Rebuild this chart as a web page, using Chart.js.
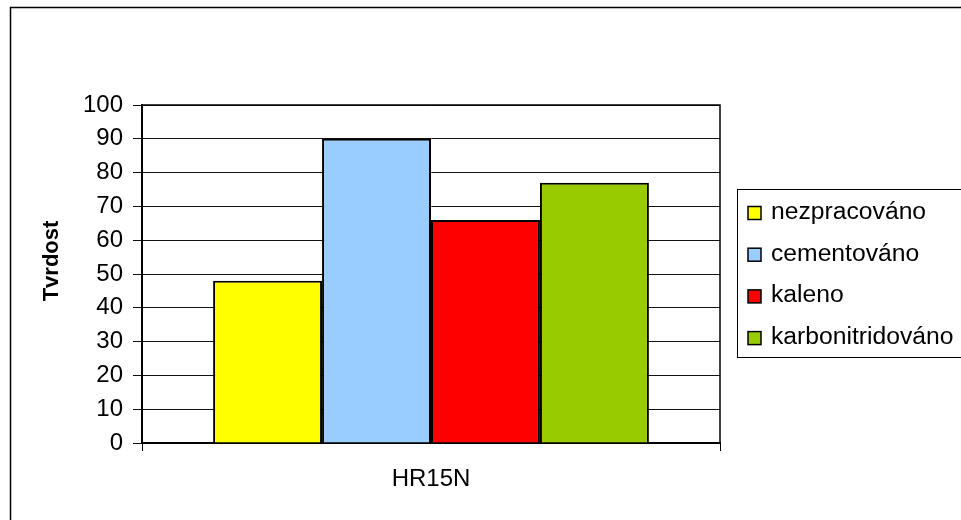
<!DOCTYPE html>
<html>
<head>
<meta charset="utf-8">
<title>Tvrdost HR15N</title>
<script src="https://cdn.jsdelivr.net/npm/chart.js@4/dist/chart.umd.min.js"></script>
<style>
  html, body { margin: 0; padding: 0; background: #fff; }
  #wrap { width: 961px; height: 520px; position: relative; }
</style>
</head>
<body>
<div id="wrap"><canvas id="c" width="961" height="520"></canvas></div>
<script>
// Hardness measured on the HR15N scale for each surface treatment
const categories = ['HR15N'];
const seriesNames = ['nezpracováno', 'cementováno', 'kaleno', 'karbonitridováno'];
const seriesValues = [[48], [90], [66], [77]];
const seriesColors = ['#FFFF00', '#99CCFF', '#FF0000', '#99CC00'];
const yTicks = [0, 10, 20, 30, 40, 50, 60, 70, 80, 90, 100];
const yTitle = 'Tvrdost';

const FONT = '"Liberation Sans", Arial, sans-serif';

// Frame around the whole chart (left and top edges visible)
const frame = {
  id: 'frame',
  beforeDraw(chart) {
    const ctx = chart.ctx;
    ctx.save();
    ctx.fillStyle = '#fff';
    ctx.fillRect(0, 0, chart.width, chart.height);
    ctx.strokeStyle = '#000';
    ctx.lineWidth = 1.5;
    ctx.strokeRect(10.5, 7.5, chart.width + 20, chart.height + 20);
    ctx.restore();
  }
};

// Plot-area border and rotated value-axis title
const plotBox = {
  id: 'plotBox',
  beforeDatasetsDraw(chart) {
    const a = chart.chartArea, ctx = chart.ctx;
    ctx.save();
    ctx.strokeStyle = '#000';
    ctx.lineWidth = 1.5;
    ctx.strokeRect(a.left, a.top, a.right - a.left, a.bottom - a.top);
    ctx.restore();
  },
  afterDraw(chart) {
    const a = chart.chartArea, ctx = chart.ctx;
    ctx.save();
    ctx.translate(52, (a.top + a.bottom) / 2 - 13);
    ctx.rotate(-Math.PI / 2);
    ctx.font = 'bold 22px ' + FONT;
    ctx.fillStyle = '#000';
    ctx.textAlign = 'center';
    ctx.textBaseline = 'middle';
    ctx.fillText(yTitle, 0, 0);
    ctx.restore();
  }
};

// Boxed legend to the right of the plot
const boxLegend = {
  id: 'boxLegend',
  afterDraw(chart) {
    const ctx = chart.ctx;
    const a = chart.chartArea;
    const x0 = a.right + 17.5, y0 = 189.5;
    ctx.save();
    ctx.strokeStyle = '#000';
    ctx.lineWidth = 1;
    ctx.strokeRect(x0, y0, 300, 168);
    ctx.font = '24.7px ' + FONT;
    ctx.textBaseline = 'middle';
    ctx.textAlign = 'left';
    chart.data.datasets.forEach((ds, i) => {
      const cy = 213 + i * 41.7;
      ctx.fillStyle = ds.backgroundColor;
      ctx.fillRect(748, cy - 6.5, 13, 13);
      ctx.strokeStyle = '#000';
      ctx.lineWidth = 1.5;
      ctx.strokeRect(748, cy - 6.5, 13, 13);
      ctx.fillStyle = '#000';
      ctx.fillText(ds.label, 771, cy - 1);
    });
    ctx.restore();
  }
};

new Chart(document.getElementById('c'), {
  type: 'bar',
  data: {
    labels: categories,
    datasets: seriesNames.map((name, i) => ({
      label: name,
      data: seriesValues[i],
      backgroundColor: seriesColors[i],
      borderColor: '#000',
      borderWidth: 2,
      barPercentage: 1,
      categoryPercentage: 0.754
    }))
  },
  options: {
    responsive: false,
    animation: false,
    devicePixelRatio: 1,
    layout: { padding: { left: 0, top: 105, right: 241, bottom: 0 } },
    plugins: { legend: { display: false }, tooltip: { enabled: false } },
    scales: {
      x: {
        afterFit(s) { s.height = 77; },
        grid: { display: true, drawOnChartArea: false, drawTicks: true, tickLength: 8, color: '#000', lineWidth: 1, offset: true },
        border: { display: true, color: '#000', width: 2 },
        ticks: { color: '#000', font: { family: FONT, size: 24 }, padding: 14 }
      },
      y: {
        min: 0,
        max: 100,
        afterFit(s) { s.width = 142; },
        afterBuildTicks(s) { s.ticks = yTicks.map(v => ({ value: v })); },
        grid: { color: '#111', lineWidth: 1, tickLength: 9, drawTicks: true },
        border: { display: true, color: '#000', width: 2 },
        ticks: { color: '#000', font: { family: FONT, size: 24 }, padding: 10 }
      }
    }
  },
  plugins: [frame, plotBox, boxLegend]
});
</script>
</body>
</html>
